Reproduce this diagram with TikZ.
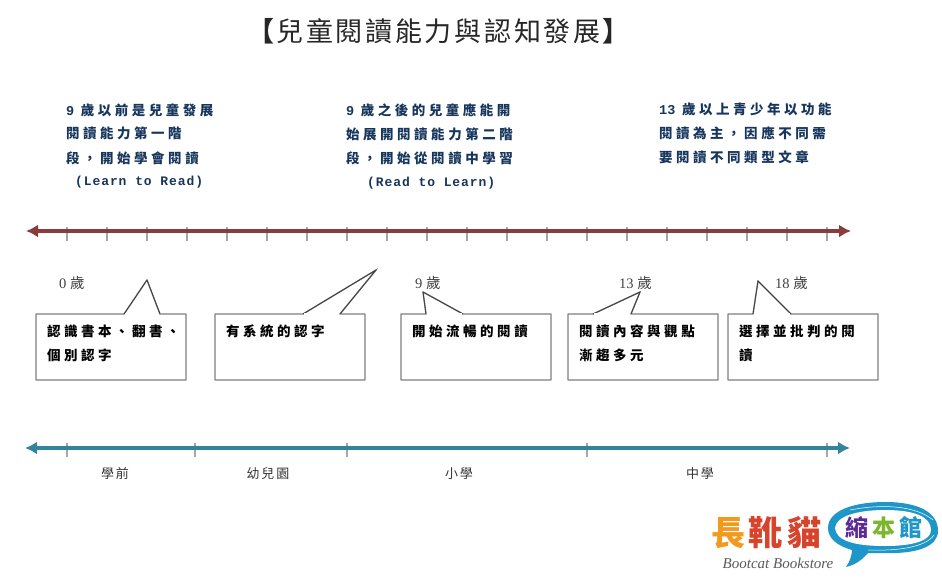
\documentclass[tikz,border=0pt]{standalone}
\usepackage{fontspec}
\setmainfont{Liberation Serif}
\newfontfamily\cjk{Noto Sans CJK TC}
\newfontfamily\mono{Liberation Mono}
\usetikzlibrary{arrows.meta}
\definecolor{axisred}{HTML}{8A3B3B}
\definecolor{axisteal}{HTML}{31849B}
\definecolor{tickgray}{HTML}{A6A6A6}
\definecolor{boxgray}{HTML}{7F7F7F}
\definecolor{navy}{HTML}{17365D}
\definecolor{bubbleblue}{HTML}{1E96C8}
\definecolor{logoorange}{HTML}{F39A1E}
\definecolor{logored}{HTML}{D8432B}
\definecolor{logopurple}{HTML}{5B2A96}
\definecolor{logogreen}{HTML}{7DB52E}
\tikzset{
  x=1pt,y=-1pt,
  titletext/.style={inner sep=0pt,font=\cjk\fontsize{27}{30}\selectfont\addfontfeature{LetterSpace=10},text=black!85},
  bluetext/.style={anchor=west,inner sep=0pt,text=navy,font=\cjk\bfseries\fontsize{13.5}{16}\selectfont\addfontfeature{LetterSpace=26}},
  monotext/.style={anchor=west,inner sep=0pt,text=navy,font=\mono\bfseries\fontsize{13}{16}\selectfont\addfontfeature{LetterSpace=7}},
  boxtext/.style={anchor=west,inner sep=0pt,text=black,font=\cjk\bfseries\fontsize{13.5}{16}\selectfont\addfontfeature{LetterSpace=26}},
  agetext/.style={anchor=west,inner sep=0pt,text=black!75,font=\fontsize{14.5}{16}\selectfont},
  stagetext/.style={inner sep=0pt,text=black!80,font=\cjk\fontsize{13}{16}\selectfont\addfontfeature{LetterSpace=15}},
  callout/.style={draw=boxgray,line width=1.4pt,fill=white,line join=round},
  pointer/.style={draw=black!75,line width=.8pt,line join=miter},
  redaxis/.style={draw=axisred,line width=4.2pt,{Latex[length=12pt,width=13pt]}-{Latex[length=12pt,width=13pt]}},
  tealaxis/.style={draw=axisteal,line width=4.2pt,{Latex[length=12pt,width=13pt]}-{Latex[length=12pt,width=13pt]}},
  ticka/.style={draw=tickgray,line width=1.2pt},
}
\newcommand{\callbox}[8]{%
  \draw[callout] (#1,314) -- (#2,314) -- (#3,#4) -- (#5,314) -- (#1+150,314) -- (#1+150,380) -- (#1,380) -- cycle;
  \draw[pointer] (#2,314) -- (#3,#4) -- (#5,314);
  \draw[white,line width=1.6pt] (#2+1,314) -- (#5-1,314);
  \node[boxtext] (#6a) at (#1+11,331.5) {#7};
  \node[boxtext] (#6b) at (#1+11,355.5) {#8};
}
\begin{document}
\begin{tikzpicture}
\useasboundingbox (0,0) rectangle (942,584);
\node[titletext] (title) at (438.5,31) {{\bfseries 【}\kern2pt 兒童閱讀能力與認知發展\kern2pt {\bfseries 】}};

\node[bluetext] (a1) at (66,110) {{\mono\bfseries 9} 歲以前是兒童發展};
\node[bluetext] (a2) at (66,133) {閱讀能力第一階};
\node[bluetext] (a3) at (66,158) {段，開始學會閱讀};
\node[monotext] (a4) at (75,182) {(Learn to Read)};

\node[bluetext] (b1) at (346,110) {{\mono\bfseries 9} 歲之後的兒童應能開};
\node[bluetext] (b2) at (346,134) {始展開閱讀能力第二階};
\node[bluetext] (b3) at (346,158) {段，開始從閱讀中學習};
\node[monotext] (b4) at (367,183) {(Read to Learn)};

\node[bluetext] (c1) at (659,109) {{\mono\bfseries 13} 歲以上青少年以功能};
\node[bluetext] (c2) at (659,133) {閱讀為主，因應不同需};
\node[bluetext] (c3) at (659,157) {要閱讀不同類型文章};

% red axis
\coordinate (rl) at (26,231);
\coordinate (rr) at (851,231);
\foreach \x in {67,107,...,827} \draw[ticka] (\x,227) -- (\x,241);
\draw[redaxis] (rl) -- (rr);

% age labels
\node[agetext] (age0) at (59,283) {0 {\cjk 歲}};
\node[agetext] (age9) at (415,283) {9 {\cjk 歲}};
\node[agetext] (age13) at (619,283) {13 {\cjk 歲}};
\node[agetext] (age18) at (775,283) {18 {\cjk 歲}};

% callouts
\callbox{36}{124}{147}{280}{160}{p}{認識書本、翻書、}{個別認字}
\callbox{215}{303}{376}{270}{340}{q}{有系統的認字}{}
\callbox{401}{426}{423}{292}{463}{r}{開始流暢的閱讀}{}
\callbox{568}{593}{640}{292}{631}{s}{閱讀內容與觀點}{漸趨多元}
\callbox{728}{753}{758}{281}{791}{t}{選擇並批判的閱}{讀}

% teal axis
\coordinate (tl) at (25,448);
\coordinate (tr) at (850,448);
\foreach \x in {67,195,347,587,827} \draw[ticka] (\x,443) -- (\x,457);
\draw[tealaxis] (tl) -- (tr);
\node[stagetext] (s1) at (115,474) {學前};
\node[stagetext] (s2) at (268,474) {幼兒園};
\node[stagetext] (s3) at (459,474) {小學};
\node[stagetext] (s4) at (700,474) {中學};

% logo
\fill[bubbleblue] (828,528) .. controls (828,510) and (855,502) .. (885,502)
  .. controls (918,502) and (938,512) .. (938,531)
  .. controls (938,546) and (918,554) .. (885,553)
  .. controls (878,553) and (873,553) .. (868,553)
  .. controls (862,560) and (855,565) .. (846,567)
  .. controls (850,561) and (852,555) .. (852,550)
  .. controls (838,546) and (828,539) .. (828,528) -- cycle;
\fill[white] (835,528) .. controls (836,516) and (858,510) .. (885,510)
  .. controls (915,510) and (931,517) .. (931,530)
  .. controls (931,541) and (912,546) .. (885,546)
  .. controls (855,546) and (836,541) .. (835,528) -- cycle;
\draw[white,line width=.5pt] (850,510) .. controls (880,504) and (915,505) .. (933,520);
\draw[white,line width=.5pt] (934,535) .. controls (925,548) and (895,551) .. (868,550);
\node[inner sep=0pt,text=logoorange,font=\cjk\bfseries\fontsize{34}{36}\selectfont] (l1) at (728,533) {長};
\node[inner sep=0pt,text=logored,font=\cjk\bfseries\fontsize{34}{36}\selectfont] (l2) at (765,533) {靴};
\node[inner sep=0pt,text=logored,font=\cjk\bfseries\fontsize{34}{36}\selectfont] (l3) at (804,533) {貓};
\node[inner sep=0pt,text=logopurple,font=\cjk\bfseries\fontsize{23}{24}\selectfont] (l4) at (857,528) {縮};
\node[inner sep=0pt,text=logogreen,font=\cjk\bfseries\fontsize{23}{24}\selectfont] (l5) at (884,528) {本};
\node[inner sep=0pt,text=bubbleblue,font=\cjk\bfseries\fontsize{23}{24}\selectfont] (l6) at (911,528) {館};
\node[inner sep=0pt,text=black!65,font=\itshape\fontsize{15}{15}\selectfont] (l7) at (778,563) {Bootcat Bookstore};
\end{tikzpicture}
\end{document}
